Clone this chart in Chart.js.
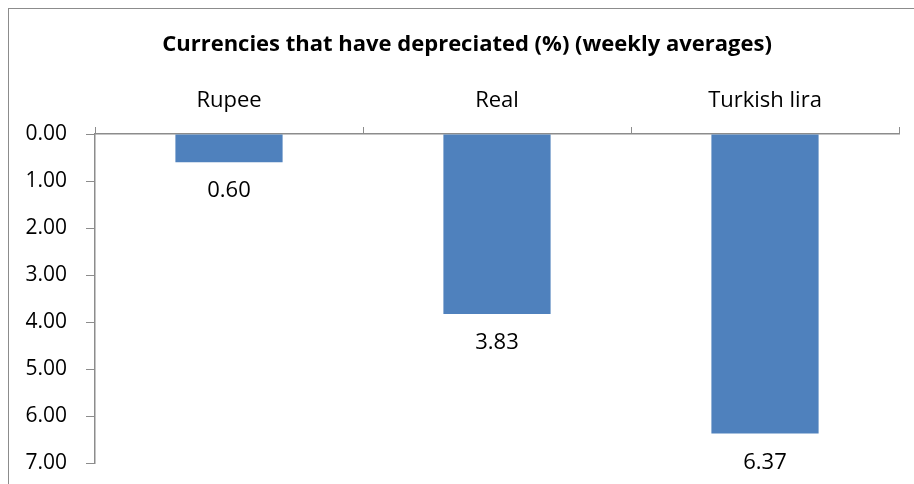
<!DOCTYPE html>
<html>
<head>
<meta charset="utf-8">
<script src="https://cdn.jsdelivr.net/npm/chart.js@4/dist/chart.umd.min.js"></script>
<style>
  html, body { margin: 0; padding: 0; background: #fff; }
  #wrap { position: relative; width: 914px; height: 484px; overflow: hidden; }
  #frame { position: absolute; left: 8px; top: 8px; width: 1000px; height: 1000px; border: 1px solid #8c8c8c; box-sizing: border-box; }
  canvas { position: absolute; left: 0; top: 0; }
</style>
</head>
<body>
<div id="wrap">
  <div id="frame"></div>
  <canvas id="c" width="914" height="484"></canvas>
</div>
<script>
const categories = ["Rupee", "Real", "Turkish lira"];
const depreciation = [0.60, 3.83, 6.37];
const yTicks = [0, 1, 2, 3, 4, 5, 6, 7];
const titleText = "Currencies that have depreciated (%) (weekly averages)";

const FONT = "'Open Sans', 'DejaVu Sans', sans-serif";

const extras = {
  id: 'extras',
  afterDatasetsDraw(chart) {
    const ctx = chart.ctx;
    const meta = chart.getDatasetMeta(0);
    ctx.save();
    ctx.font = "22px " + FONT;
    ctx.fillStyle = "#000";
    ctx.textAlign = "center";
    ctx.textBaseline = "middle";
    meta.data.forEach((bar, i) => {
      ctx.fillText(depreciation[i].toFixed(2), bar.x, bar.y + 29);
    });
    ctx.restore();
  },
  afterDraw(chart) {
    const ctx = chart.ctx;
    ctx.save();
    ctx.font = "bold 22px " + FONT;
    ctx.fillStyle = "#000";
    ctx.textAlign = "center";
    ctx.textBaseline = "middle";
    ctx.fillText(titleText, 467, 45);
    ctx.restore();
  }
};

new Chart(document.getElementById('c'), {
  type: 'bar',
  data: {
    labels: categories,
    datasets: [{
      data: depreciation,
      backgroundColor: '#4F81BD',
      borderWidth: 0,
      barPercentage: 0.4,
      categoryPercentage: 1.0
    }]
  },
  options: {
    responsive: false,
    animation: false,
    devicePixelRatio: 1,
    layout: { padding: { left: 0, right: 15, top: 0, bottom: 21 } },
    plugins: {
      legend: { display: false },
      tooltip: { enabled: false },
      title: { display: false }
    },
    scales: {
      x: {
        position: 'top',
        offset: true,
        grid: {
          display: true,
          drawOnChartArea: false,
          drawTicks: true,
          tickLength: 7,
          color: '#8c8c8c',
          offset: true
        },
        border: { display: true, color: '#8c8c8c', width: 1.5 },
        ticks: {
          color: '#000',
          font: { family: FONT, size: 22 },
          padding: 13,
          maxRotation: 0
        },
        afterFit(scale) { scale.height = 134; scale.paddingLeft = 0; scale.paddingRight = 0; }
      },
      y: {
        reverse: true,
        min: 0,
        max: 7,
        afterBuildTicks(scale) { scale.ticks = yTicks.map(v => ({ value: v })); },
        grid: {
          display: true,
          drawOnChartArea: false,
          drawTicks: true,
          tickLength: 9,
          color: '#8c8c8c'
        },
        border: { display: true, color: '#8c8c8c', width: 1.5 },
        ticks: {
          color: '#000',
          font: { family: FONT, size: 21 },
          padding: 19,
          callback: (v) => Number(v).toFixed(2)
        },
        afterFit(scale) { scale.width = 95; scale.paddingTop = 0; scale.paddingBottom = 0; }
      }
    }
  },
  plugins: [extras]
});
</script>
</body>
</html>
